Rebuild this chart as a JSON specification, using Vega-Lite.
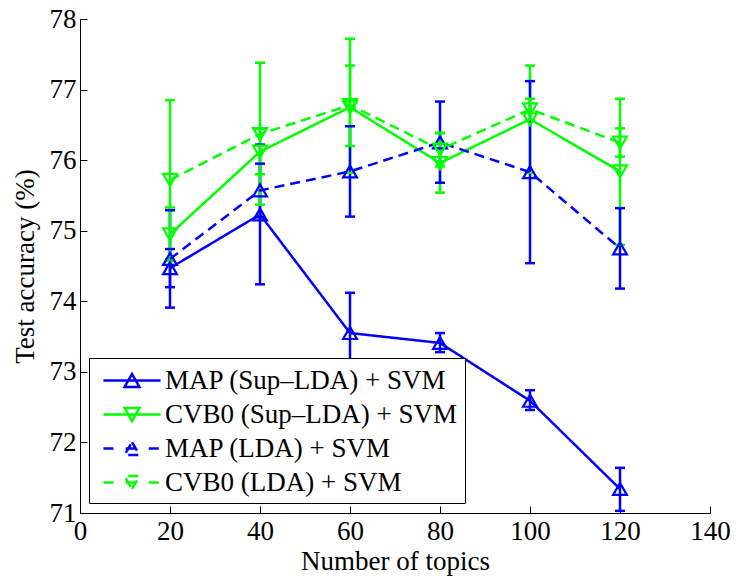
{
  "$schema": "https://vega.github.io/schema/vega-lite/v6.json",
  "width": 630,
  "height": 494,
  "autosize": "none",
  "padding": {"left": 80, "top": 19, "right": 26, "bottom": 65},
  "background": "white",
  "data": {
    "values": [
      {"series": "MAP (Sup–LDA) + SVM", "topics": 20, "acc": 74.47, "lo": 74.20, "hi": 74.74},
      {"series": "MAP (Sup–LDA) + SVM", "topics": 40, "acc": 75.23, "lo": 74.24, "hi": 76.22},
      {"series": "MAP (Sup–LDA) + SVM", "topics": 60, "acc": 73.55, "lo": 72.98, "hi": 74.12},
      {"series": "MAP (Sup–LDA) + SVM", "topics": 80, "acc": 73.41, "lo": 73.28, "hi": 73.55},
      {"series": "MAP (Sup–LDA) + SVM", "topics": 100, "acc": 72.59, "lo": 72.46, "hi": 72.74},
      {"series": "MAP (Sup–LDA) + SVM", "topics": 120, "acc": 71.34, "lo": 71.03, "hi": 71.64},
      {"series": "CVB0 (Sup–LDA) + SVM", "topics": 20, "acc": 74.95, "lo": 74.57, "hi": 75.33},
      {"series": "CVB0 (Sup–LDA) + SVM", "topics": 40, "acc": 76.12, "lo": 75.80, "hi": 76.44},
      {"series": "CVB0 (Sup–LDA) + SVM", "topics": 60, "acc": 76.75, "lo": 75.82, "hi": 77.72},
      {"series": "CVB0 (Sup–LDA) + SVM", "topics": 80, "acc": 75.96, "lo": 75.54, "hi": 76.38},
      {"series": "CVB0 (Sup–LDA) + SVM", "topics": 100, "acc": 76.58, "lo": 75.82, "hi": 77.34},
      {"series": "CVB0 (Sup–LDA) + SVM", "topics": 120, "acc": 75.84, "lo": 74.80, "hi": 76.87},
      {"series": "MAP (LDA) + SVM", "topics": 20, "acc": 74.60, "lo": 73.91, "hi": 75.29},
      {"series": "MAP (LDA) + SVM", "topics": 40, "acc": 75.57, "lo": 75.19, "hi": 75.95},
      {"series": "MAP (LDA) + SVM", "topics": 60, "acc": 75.84, "lo": 75.20, "hi": 76.48},
      {"series": "MAP (LDA) + SVM", "topics": 80, "acc": 76.25, "lo": 75.68, "hi": 76.83},
      {"series": "MAP (LDA) + SVM", "topics": 100, "acc": 75.83, "lo": 74.54, "hi": 77.12},
      {"series": "MAP (LDA) + SVM", "topics": 120, "acc": 74.75, "lo": 74.18, "hi": 75.32},
      {"series": "CVB0 (LDA) + SVM", "topics": 20, "acc": 75.72, "lo": 74.59, "hi": 76.85},
      {"series": "CVB0 (LDA) + SVM", "topics": 40, "acc": 76.37, "lo": 75.37, "hi": 77.38},
      {"series": "CVB0 (LDA) + SVM", "topics": 60, "acc": 76.78, "lo": 76.20, "hi": 77.34},
      {"series": "CVB0 (LDA) + SVM", "topics": 80, "acc": 76.15, "lo": 75.91, "hi": 76.39},
      {"series": "CVB0 (LDA) + SVM", "topics": 100, "acc": 76.72, "lo": 76.57, "hi": 76.87},
      {"series": "CVB0 (LDA) + SVM", "topics": 120, "acc": 76.25, "lo": 76.05, "hi": 76.45}
    ]
  },
  "encoding": {
    "x": {
      "field": "topics", "type": "quantitative",
      "scale": {"domain": [0, 140], "nice": false, "zero": false},
      "axis": {"values": [0, 20, 40, 60, 80, 100, 120, 140], "title": "Number of topics", "labelPadding": 12, "titlePadding": 4, "format": "d", "labelFlush": false}
    },
    "color": {
      "field": "series", "type": "nominal",
      "scale": {
        "domain": ["MAP (Sup–LDA) + SVM", "CVB0 (Sup–LDA) + SVM", "MAP (LDA) + SVM", "CVB0 (LDA) + SVM"],
        "range": ["#0000ff", "#00ff00", "#0000ff", "#00ff00"]
      },
      "legend": {"title": null}
    }
  },
  "layer": [
    {
      "mark": {"type": "rule", "strokeWidth": 2.5},
      "encoding": {
        "y": {"field": "lo", "type": "quantitative",
          "scale": {"domain": [71, 78], "nice": false, "zero": false},
          "axis": {"values": [71, 72, 73, 74, 75, 76, 77, 78], "title": "Test accuracy (%)", "labelPadding": 11, "titlePadding": 10, "format": "d", "labelFlush": false}},
        "y2": {"field": "hi"}
      }
    },
    {
      "mark": {"type": "point", "shape": "M-1,0H1", "filled": false, "size": 100, "strokeWidth": 2.5, "opacity": 1},
      "encoding": {"y": {"field": "lo", "type": "quantitative"}}
    },
    {
      "mark": {"type": "point", "shape": "M-1,0H1", "filled": false, "size": 100, "strokeWidth": 2.5, "opacity": 1},
      "encoding": {"y": {"field": "hi", "type": "quantitative"}}
    },
    {
      "mark": {"type": "line", "strokeWidth": 2.5},
      "encoding": {
        "y": {"field": "acc", "type": "quantitative"},
        "strokeDash": {
          "field": "series", "type": "nominal",
          "scale": {
            "domain": ["MAP (Sup–LDA) + SVM", "CVB0 (Sup–LDA) + SVM", "MAP (LDA) + SVM", "CVB0 (LDA) + SVM"],
            "range": [[1, 0], [1, 0], [10, 6], [10, 6]]
          },
          "legend": null
        }
      }
    },
    {
      "transform": [{"filter": "indexof(datum.series, 'MAP') === 0"}],
      "mark": {"type": "point", "shape": "triangle-up", "filled": false, "size": 190, "strokeWidth": 2.2, "opacity": 1},
      "encoding": {"y": {"field": "acc", "type": "quantitative"}}
    },
    {
      "transform": [{"filter": "indexof(datum.series, 'CVB0') === 0"}],
      "mark": {"type": "point", "shape": "triangle-down", "filled": false, "size": 190, "strokeWidth": 2.2, "opacity": 1},
      "encoding": {"y": {"field": "acc", "type": "quantitative"}}
    },
    {
      "transform": [{"filter": "datum.topics < 0"}],
      "mark": {"type": "point", "filled": false, "strokeWidth": 2.5, "opacity": 1},
      "encoding": {
        "y": {"field": "acc", "type": "quantitative"},
        "shape": {
          "field": "series", "type": "nominal",
          "scale": {
            "domain": ["MAP (Sup–LDA) + SVM", "CVB0 (Sup–LDA) + SVM", "MAP (LDA) + SVM", "CVB0 (LDA) + SVM"],
            "range": [
              "M-2.04,0H2.04M0,-0.46L0.53,0.46L-0.53,0.46Z",
              "M-2.04,0H2.04M0,0.46L0.53,-0.46L-0.53,-0.46Z",
              "M-2.04,0H-1.2M-0.45,0H0.45M1.2,0H2.04M0,-0.46L0.53,0.46L-0.53,0.46Z",
              "M-2.04,0H-1.2M-0.45,0H0.45M1.2,0H2.04M0,0.46L0.53,-0.46L-0.53,-0.46Z"
            ]
          },
          "legend": {"title": null}
        }
      }
    }
  ],
  "config": {
    "font": "Liberation Serif",
    "view": {"stroke": null},
    "axis": {
      "labelFont": "Liberation Serif", "labelFontSize": 27, "labelColor": "black",
      "titleFont": "Liberation Serif", "titleFontSize": 27, "titleFontWeight": "normal", "titleColor": "black",
      "domainColor": "black", "domainWidth": 1, "tickColor": "black", "tickWidth": 1, "tickSize": -7,
      "grid": false
    },
    "legend": {
      "orient": "none", "legendX": 9, "legendY": 339,
      "padding": 7, "strokeColor": "black", "fillColor": "white", "cornerRadius": 0,
      "labelFont": "Liberation Serif", "labelFontSize": 27, "labelColor": "black", "labelLimit": 500,
      "symbolSize": 784, "symbolStrokeWidth": 2.5, "symbolOffset": 20.5, "labelOffset": 17.5,
      "rowPadding": 5, "symbolFillColor": "transparent"
    }
  }
}
